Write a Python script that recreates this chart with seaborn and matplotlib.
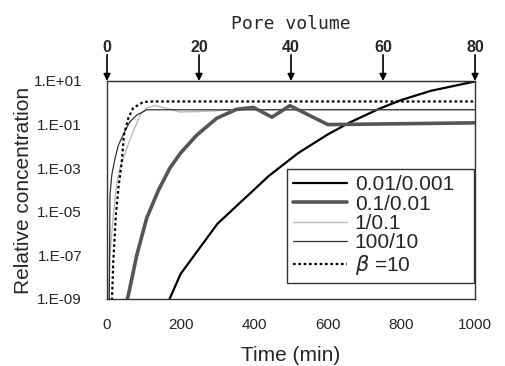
import numpy as np
import pandas as pd
import matplotlib
matplotlib.use('Agg')
import matplotlib.pyplot as plt
import seaborn as sns

# values (time in min, log10 of relative concentration)
t_a = [170, 200, 250, 300, 370, 440, 520, 600, 660, 740, 800, 880, 1000]
c_a = [-9.0, -7.85, -6.7, -5.55, -4.45, -3.35, -2.3, -1.45, -0.9, -0.27, 0.13, 0.55, 0.98]

t_b = [52, 58, 81, 108, 140, 171, 200, 244, 298, 352, 398, 448, 497, 600, 1000]
c_b = [-9.2, -8.82, -6.98, -5.28, -4.0, -2.99, -2.3, -1.48, -0.71, -0.30, -0.21, -0.66, -0.13, -1.0, -0.92]

t_c = [5, 8, 17, 26, 35, 54, 71, 90, 108, 130, 198, 253, 361, 1000]
c_c = [-9.2, -6.98, -5.15, -3.77, -2.99, -2.07, -1.33, -0.56, -0.24, -0.12, -0.42, -0.40, -0.31, -0.31]

t_d = [6, 8, 13, 22, 31, 46, 62, 81, 108, 1000]
c_d = [-9.2, -4.23, -3.31, -2.53, -1.94, -1.39, -0.87, -0.56, -0.32, -0.32]

t_e = [13, 14, 17, 24, 31, 40, 46, 58, 71, 99, 125, 1000]
c_e = [-9.3, -8.82, -7.30, -5.15, -3.91, -2.72, -1.48, -0.70, -0.24, 0.04, 0.06, 0.06]

labels = ['0.01/0.001', '0.1/0.01', '1/0.1', '100/10', r'$\beta$ =10']
pv_ticks = [0, 20, 40, 60, 80]
min_per_pv = 12.5

sns.set_style('white')
plt.rcParams['font.family'] = ['Liberation Sans', 'DejaVu Sans']
plt.rcParams['mathtext.fontset'] = 'dejavusans'

fig = plt.figure(figsize=(5.06, 3.66), dpi=100)
ax = fig.add_axes([0.2115, 0.1831, 0.7273, 0.5956])

series = [(t_a, c_a, '#000000', 1.6, '-'),
          (t_b, c_b, '#555555', 2.6, '-'),
          (t_c, c_c, '#bbbbbb', 1.0, '-'),
          (t_d, c_d, '#333333', 0.9, '-'),
          (t_e, c_e, '#000000', 1.6, (0, (1.2, 1.2)))]

for (t, c, col, lw, ls), lab in zip(series, labels):
    d = pd.DataFrame({'t': t, 'c': 10.0 ** np.array(c)})
    sns.lineplot(data=d, x='t', y='c', ax=ax, color=col, linewidth=lw,
                 linestyle=ls, label=lab, sort=False)

ax.set_yscale('log')
ax.set_xlim(0, 1000)
ax.set_ylim(1e-9, 1e1)
ax.set_yticks([1e1, 1e-1, 1e-3, 1e-5, 1e-7, 1e-9])
ax.set_yticklabels(['1.E+01', '1.E-01', '1.E-03', '1.E-05', '1.E-07', '1.E-09'])
ax.minorticks_off()
ax.set_xticks(range(0, 1001, 200))
ax.tick_params(axis='both', direction='in', length=4, width=0.8, labelsize=11,
               color='#333333')
ax.tick_params(axis='y', pad=18)
ax.tick_params(axis='x', pad=14)
for s in ax.spines.values():
    s.set_color('#333333')
    s.set_linewidth(1.0)

ax.set_xlabel('Time (min)', fontsize=15, labelpad=10)
ax.set_ylabel('Relative concentration', fontsize=15, labelpad=0)

sec = ax.secondary_xaxis('top', functions=(lambda x: x / min_per_pv,
                                           lambda p: p * min_per_pv))
sec.set_xticks(pv_ticks)
sec.tick_params(length=0, pad=18.5)
for lb in sec.get_xticklabels():
    lb.set_fontweight('bold')
    lb.set_fontsize(11.5)
    lb.set_family(['Liberation Sans Narrow', 'Liberation Sans'])
sec.set_xlabel('Pore volume', fontsize=13, family='DejaVu Sans Mono', labelpad=8)

for p in pv_ticks:
    ax.annotate('', xy=(p * min_per_pv, 1.0), xytext=(p * min_per_pv, 1.12),
                xycoords=('data', 'axes fraction'),
                textcoords=('data', 'axes fraction'),
                arrowprops=dict(arrowstyle='-|>', color='black', lw=1.2,
                                mutation_scale=10, shrinkA=0, shrinkB=0),
                annotation_clip=False)

leg = ax.legend(loc='lower left', bbox_to_anchor=(0.489, 0.073, 0.508, 0.541),
                mode='expand', borderaxespad=0, fontsize=15, frameon=True,
                fancybox=False, framealpha=1, edgecolor='#333333',
                handlelength=2.6, handletextpad=0.35, labelspacing=0.02,
                borderpad=0.3)
leg.get_frame().set_linewidth(1.0)

plt.savefig('out.png', dpi=100)
